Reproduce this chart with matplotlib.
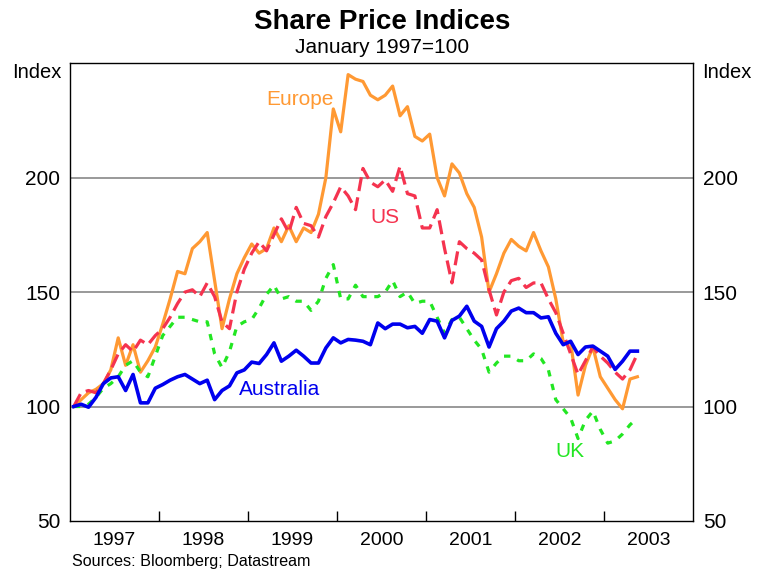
import numpy as np
import matplotlib
matplotlib.use('Agg')
import matplotlib.pyplot as plt

plt.rcParams['font.family'] = ['Liberation Sans', 'DejaVu Sans']

# monthly index values, January 1997 = 100, Jan 1997 .. May 2003
europe = [100, 103, 106, 107.5, 110, 116, 130, 118, 127, 115, 120, 126,
          136, 147, 159, 158, 169, 172, 176, 155, 134, 147, 158, 165,
          171, 167, 169, 178, 172, 179, 172, 178, 176, 184, 200, 230,
          220, 245, 243, 242, 236, 234, 236, 240, 227, 231, 218, 216,
          219, 200, 192, 206, 202, 193, 187, 174, 150, 158, 167, 173,
          170, 168, 176, 168, 161, 147, 128, 128, 105, 118, 126, 113,
          108, 103, 99, 112, 113]
us = [100, 106, 107, 106, 110, 116, 123, 127, 124, 129, 127, 131,
      134, 139, 145, 150, 151, 148, 154, 148, 137, 134, 150, 160,
      167, 172, 168, 175, 182, 176, 187, 180, 179, 174, 183, 189,
      196, 192, 186, 204, 198, 196, 199, 194, 205, 193, 192, 178,
      178, 186, 169, 154, 172, 169, 167, 164, 151, 140, 150, 155,
      156, 152, 154, 154, 147, 141, 132, 123, 114, 120, 126, 122,
      119, 115, 112, 116, 123]
uk = [100, 100, 101, 104, 108, 110, 113, 118, 120, 115, 113, 122,
      131, 135, 139, 139, 138, 137, 137, 123, 117, 124, 135, 137,
      138, 143, 149, 153, 147, 148, 146, 146, 142, 146, 156, 162,
      147, 147, 153, 148, 148, 148, 150, 155, 148, 150, 145, 146,
      146, 139, 132, 138, 139, 134, 129, 125, 115, 119, 122, 122,
      120, 120, 123, 121, 116, 103, 99, 95, 86, 94, 98, 90,
      84, 85, 88, 92, 95]
australia = [100, 101, 99.7, 104, 110, 112.5, 113, 107, 114, 101.6, 101.6, 108,
             109.6, 111.5, 113, 114, 112, 110, 111.5, 103, 107, 109, 114.7, 116,
             119.4, 118.8, 122.7, 127.8, 119.8, 122, 124.6, 122, 119, 119, 125.6, 130,
             127.8, 129.3, 129, 128.5, 127, 136.5, 134, 136, 136, 134.4, 135, 132,
             138, 137.3, 130, 137.6, 139.5, 143.8, 137.3, 135, 126, 134, 137.3, 141.7,
             143, 141, 141, 138.7, 139.2, 132, 127, 128.5, 122.7, 126, 126.4, 124.2,
             122, 116.2, 119.8, 124.2, 124.2]
years = [1997, 1998, 1999, 2000, 2001, 2002, 2003]
yticks = [50, 100, 150, 200]

t = 1997 + (np.arange(len(europe)) + 0.5) / 12.0

fig = plt.figure(figsize=(7.65, 5.69), dpi=100)
ax = fig.add_axes([0.0915, 0.0844, 0.8144, 0.8046])

ax.plot(t, europe, color='#FF9933', lw=2.3, zorder=3)
ax.plot(t, us, color='#F5334F', lw=2.3, dashes=(4.4, 2.0), zorder=3)
ax.plot(t, uk, color='#22E622', lw=2.3, dashes=(2.0, 2.4), zorder=3)
ax.plot(t, australia, color='#0000EE', lw=2.6, zorder=4)

ax.set_xlim(1997, 2004)
ax.set_ylim(50, 250)

for g in [100, 150, 200]:
    ax.axhline(g, color='#888888', lw=1.2, zorder=1)

ax.set_xticks(years[1:])
ax.set_xticks([y + 0.5 for y in years], minor=True)
ax.set_xticklabels([], minor=False)
ax.set_xticklabels([str(y) for y in years], minor=True)
ax.tick_params(axis='x', which='major', direction='in', length=7, width=1, top=False)
ax.tick_params(axis='x', which='minor', length=0, labelsize=14, pad=8)

ax.set_yticks(yticks)
ax.tick_params(axis='y', which='both', length=0, labelsize=15, pad=7,
               left=True, right=True, labelleft=True, labelright=True)

for s in ax.spines.values():
    s.set_linewidth(1.0)

ax.text(1999.58, 234, 'Europe', color='#FF9933', fontsize=15, ha='center', va='center')
ax.text(2000.54, 182.5, 'US', color='#F5334F', fontsize=15, ha='center', va='center')
ax.text(1999.36, 107.4, 'Australia', color='#0000EE', fontsize=15, ha='center', va='center')
ax.text(2002.62, 80.3, 'UK', color='#22E622', fontsize=15, ha='center', va='center')

fig.text(0.5, 0.961, 'Share Price Indices', fontsize=20, fontweight='bold', ha='center', va='center')
fig.text(0.5, 0.917, 'January 1997=100', fontsize=15, ha='center', va='center')
fig.text(0.048, 0.873, 'Index', fontsize=14.5, ha='center', va='center')
fig.text(0.95, 0.873, 'Index', fontsize=14.5, ha='center', va='center')
fig.text(0.094, 0.014, 'Sources: Bloomberg; Datastream', fontsize=11.6, ha='left', va='center')

fig.savefig('out.png', dpi=100)
